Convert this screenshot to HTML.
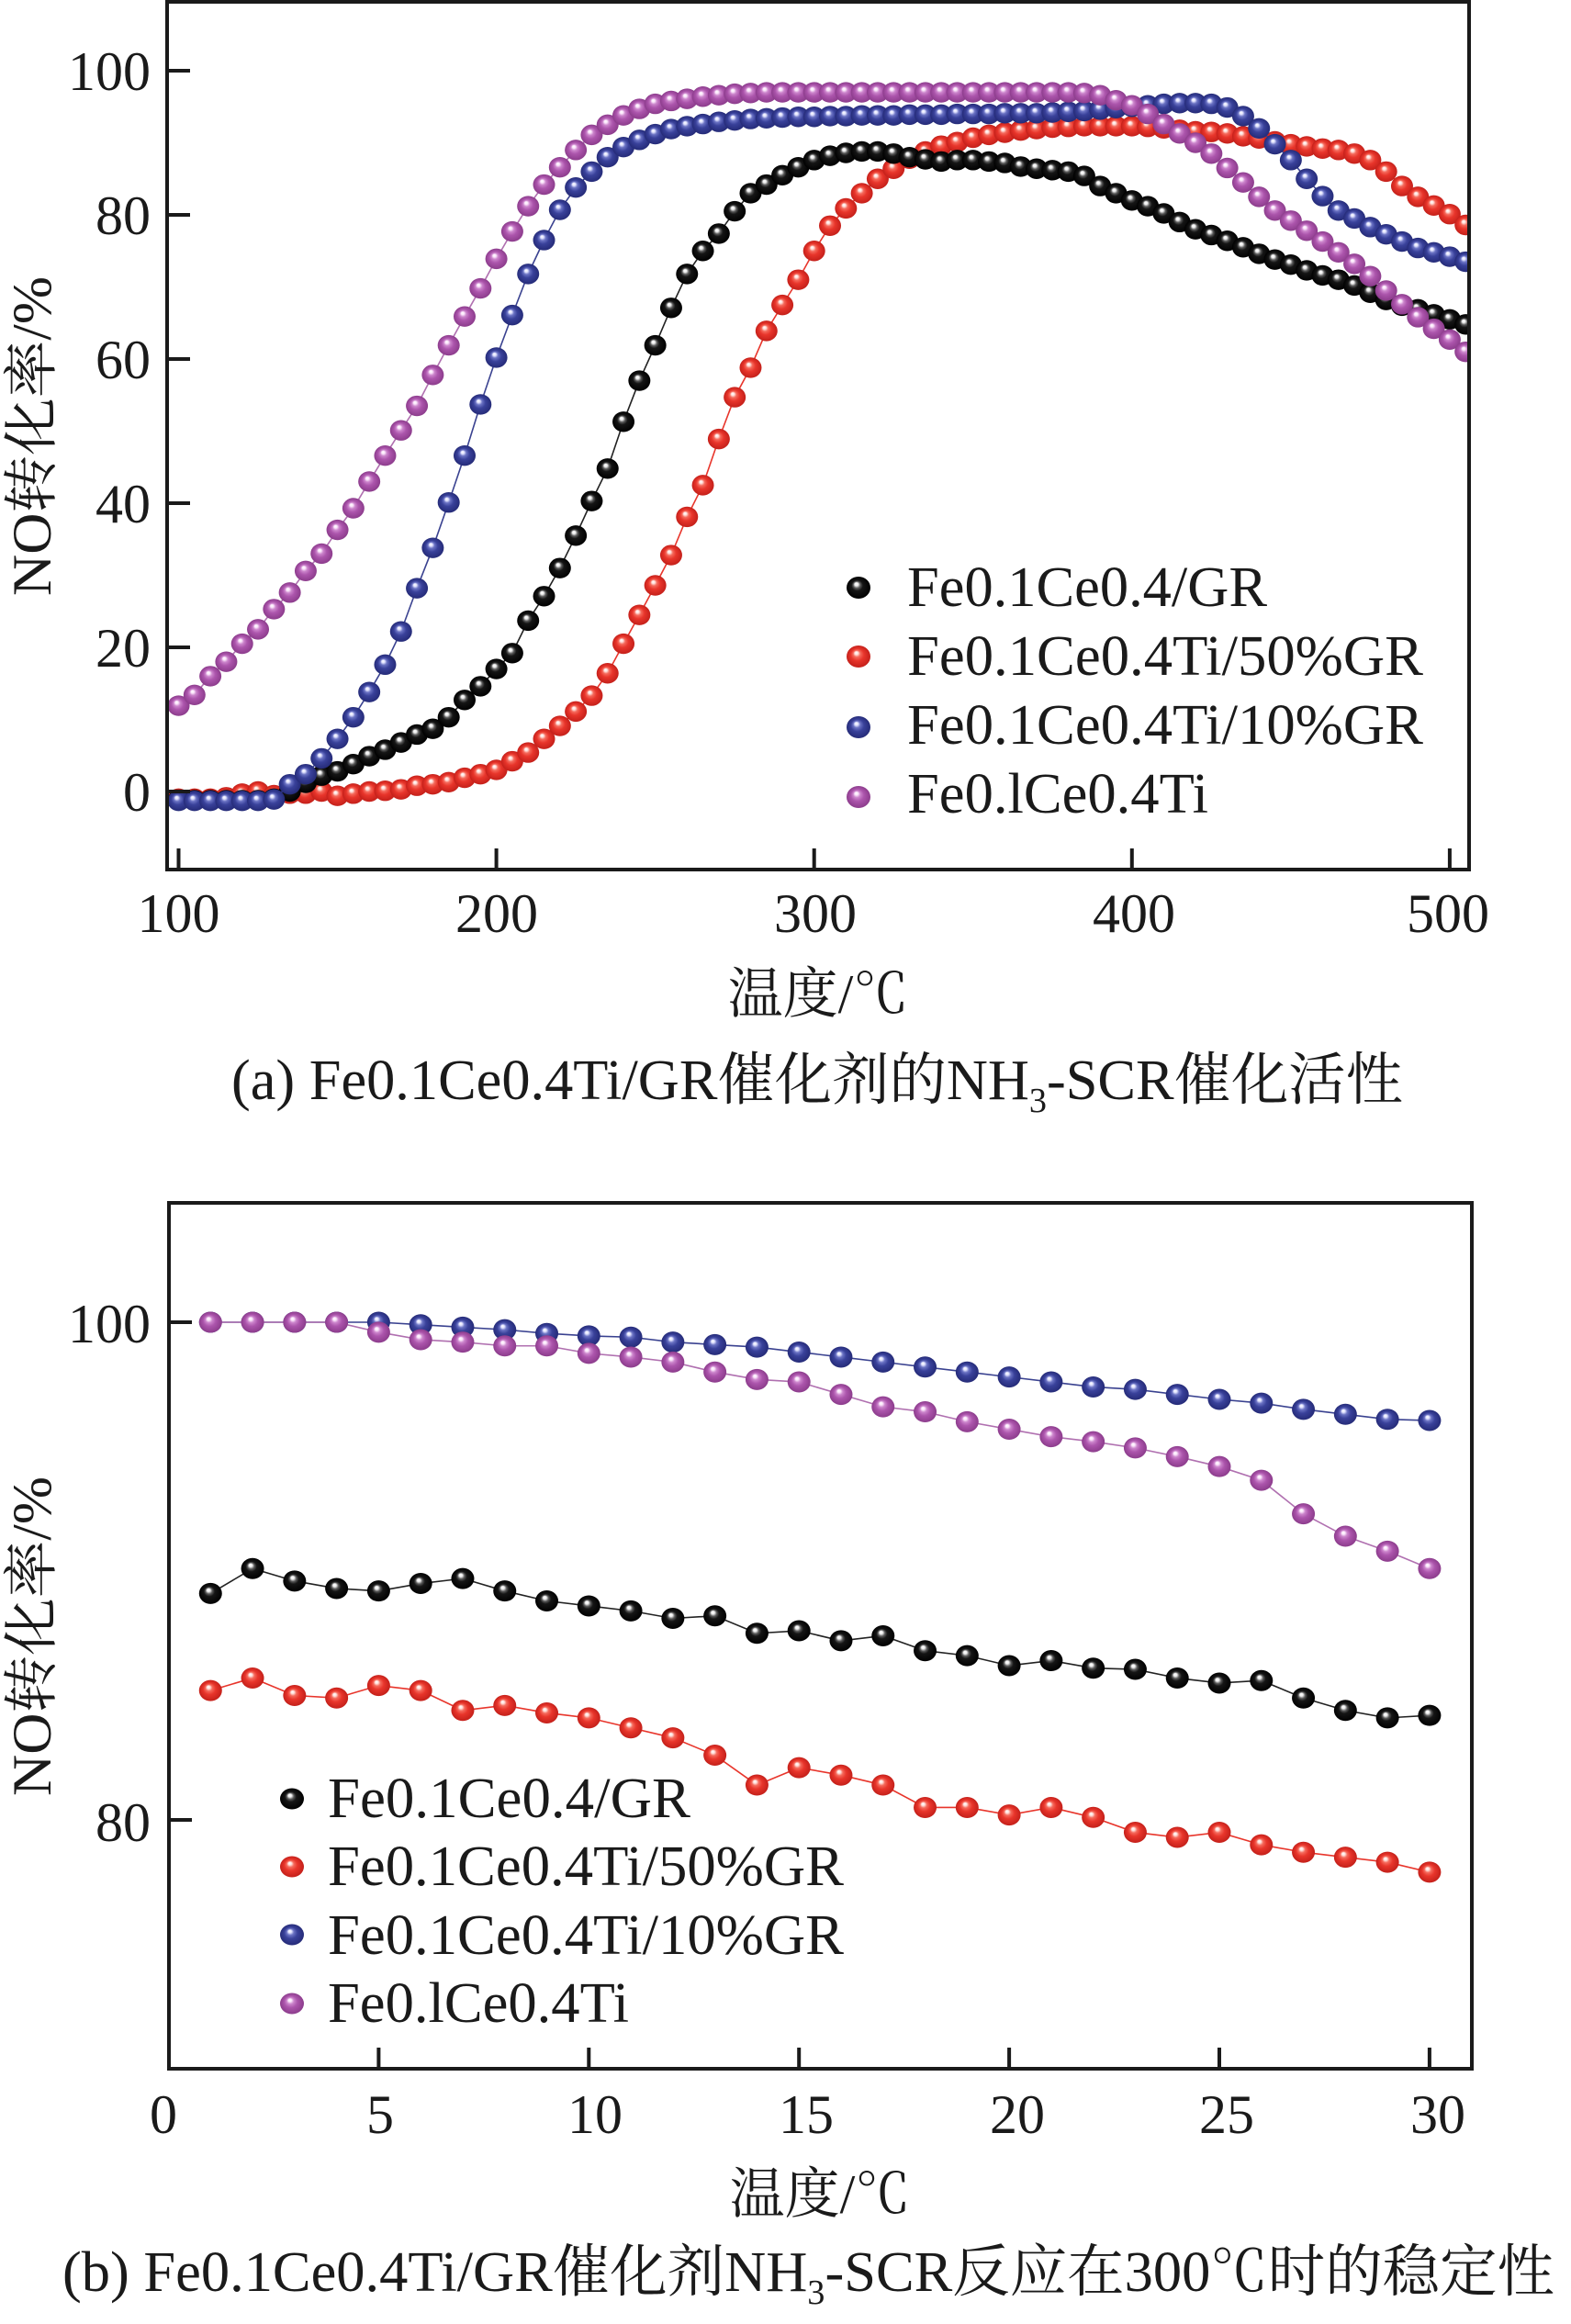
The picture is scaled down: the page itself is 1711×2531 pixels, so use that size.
<!DOCTYPE html>
<html>
<head>
<meta charset="utf-8">
<style>
html,body{margin:0;padding:0;background:#fff}
svg{display:block}
svg text{font-family:"Liberation Serif","Noto Serif CJK SC",serif;}
</style>
</head>
<body>
<svg width="1711" height="2531" viewBox="0 0 1711 2531" xmlns="http://www.w3.org/2000/svg" fill="#1a1a1a">
<defs>
  <radialGradient id="gK" cx="0.5" cy="0.5" r="0.5" fx="0.4" fy="0.68">
    <stop offset="0" stop-color="#ffffff"/><stop offset="0.14" stop-color="#f0f0f0"/><stop offset="0.3" stop-color="#5a5a5a"/><stop offset="0.48" stop-color="#151515"/><stop offset="1" stop-color="#000"/>
  </radialGradient>
  <radialGradient id="gR" cx="0.5" cy="0.5" r="0.5" fx="0.4" fy="0.68">
    <stop offset="0" stop-color="#ffffff"/><stop offset="0.14" stop-color="#ffe2dd"/><stop offset="0.3" stop-color="#f56a5c"/><stop offset="0.55" stop-color="#e8352b"/><stop offset="1" stop-color="#c4201a"/>
  </radialGradient>
  <radialGradient id="gB" cx="0.5" cy="0.5" r="0.5" fx="0.4" fy="0.68">
    <stop offset="0" stop-color="#ffffff"/><stop offset="0.14" stop-color="#e2e4ff"/><stop offset="0.3" stop-color="#6b73c4"/><stop offset="0.55" stop-color="#39419a"/><stop offset="1" stop-color="#252b78"/>
  </radialGradient>
  <radialGradient id="gP" cx="0.5" cy="0.5" r="0.5" fx="0.4" fy="0.68">
    <stop offset="0" stop-color="#ffffff"/><stop offset="0.14" stop-color="#fbe6fb"/><stop offset="0.3" stop-color="#cc85cc"/><stop offset="0.55" stop-color="#ac55ac"/><stop offset="1" stop-color="#8c3c8c"/>
  </radialGradient>
  <radialGradient id="lK" cx="0.5" cy="0.5" r="0.5" fx="0.4" fy="0.32">
    <stop offset="0" stop-color="#ffffff"/><stop offset="0.14" stop-color="#f0f0f0"/><stop offset="0.3" stop-color="#5a5a5a"/><stop offset="0.48" stop-color="#151515"/><stop offset="1" stop-color="#000"/>
  </radialGradient>
  <radialGradient id="lR" cx="0.5" cy="0.5" r="0.5" fx="0.4" fy="0.32">
    <stop offset="0" stop-color="#ffffff"/><stop offset="0.14" stop-color="#ffe2dd"/><stop offset="0.3" stop-color="#f56a5c"/><stop offset="0.55" stop-color="#e8352b"/><stop offset="1" stop-color="#c4201a"/>
  </radialGradient>
  <radialGradient id="lB" cx="0.5" cy="0.5" r="0.5" fx="0.4" fy="0.32">
    <stop offset="0" stop-color="#ffffff"/><stop offset="0.14" stop-color="#e2e4ff"/><stop offset="0.3" stop-color="#6b73c4"/><stop offset="0.55" stop-color="#39419a"/><stop offset="1" stop-color="#252b78"/>
  </radialGradient>
  <radialGradient id="lP" cx="0.5" cy="0.5" r="0.5" fx="0.4" fy="0.32">
    <stop offset="0" stop-color="#ffffff"/><stop offset="0.14" stop-color="#fbe6fb"/><stop offset="0.3" stop-color="#cc85cc"/><stop offset="0.55" stop-color="#ac55ac"/><stop offset="1" stop-color="#8c3c8c"/>
  </radialGradient>

  <marker id="mKa" markerUnits="userSpaceOnUse" markerWidth="1" markerHeight="1" refX="0" refY="0" style="overflow:visible"><ellipse cx="0" cy="0" rx="3.467" ry="1.427" fill="url(#gK)"/></marker>
  <marker id="mRa" markerUnits="userSpaceOnUse" markerWidth="1" markerHeight="1" refX="0" refY="0" style="overflow:visible"><ellipse cx="0" cy="0" rx="3.467" ry="1.427" fill="url(#gR)"/></marker>
  <marker id="mBa" markerUnits="userSpaceOnUse" markerWidth="1" markerHeight="1" refX="0" refY="0" style="overflow:visible"><ellipse cx="0" cy="0" rx="3.467" ry="1.427" fill="url(#gB)"/></marker>
  <marker id="mPa" markerUnits="userSpaceOnUse" markerWidth="1" markerHeight="1" refX="0" refY="0" style="overflow:visible"><ellipse cx="0" cy="0" rx="3.467" ry="1.427" fill="url(#gP)"/></marker>
  <marker id="mKb" markerUnits="userSpaceOnUse" markerWidth="1" markerHeight="1" refX="0" refY="0" style="overflow:visible"><ellipse cx="0" cy="0" rx="0.273" ry="0.4244" fill="url(#gK)"/></marker>
  <marker id="mRb" markerUnits="userSpaceOnUse" markerWidth="1" markerHeight="1" refX="0" refY="0" style="overflow:visible"><ellipse cx="0" cy="0" rx="0.273" ry="0.4244" fill="url(#gR)"/></marker>
  <marker id="mBb" markerUnits="userSpaceOnUse" markerWidth="1" markerHeight="1" refX="0" refY="0" style="overflow:visible"><ellipse cx="0" cy="0" rx="0.273" ry="0.4244" fill="url(#gB)"/></marker>
  <marker id="mPb" markerUnits="userSpaceOnUse" markerWidth="1" markerHeight="1" refX="0" refY="0" style="overflow:visible"><ellipse cx="0" cy="0" rx="0.273" ry="0.4244" fill="url(#gP)"/></marker>

  <clipPath id="clipA"><rect x="184" y="4" width="1414" height="941"/></clipPath>
  <clipPath id="clipB"><rect x="186" y="1312" width="1415" height="939"/></clipPath>
</defs>

<rect x="0" y="0" width="1711" height="2531" fill="#fff"/>

<!-- ================= PANEL A ================= -->
<g clip-path="url(#clipA)">
 <g transform="translate(-151.6,862) scale(3.461,-7.85)">
  <polyline fill="none" stroke="#e8352b" stroke-width="1.6" vector-effect="non-scaling-stroke" points="100,-1 105,-1 110,-1 115,-0.8 120,-0.3 125,0 130,-0.5 135,-0.3 140,-0.3 145,0 150,-0.6 155,-0.3 160,0 165,0.1 170,0.3 175,0.8 180,1 185,1.3 190,1.9 195,2.4 200,3 205,4.2 210,5.4 215,7.3 220,9.1 225,11.1 230,13.3 235,16.4 240,20.5 245,24.5 250,28.6 255,32.8 260,38.1 265,42.5 270,48.9 275,54.7 280,58.8 285,63.9 290,67.5 295,71 300,75 305,78.5 310,80.9 315,83 320,85 325,86.4 330,87.8 335,88.8 340,89.6 345,90.1 350,90.7 355,91.1 360,91.4 365,91.7 370,91.9 375,92.1 380,92.2 385,92.3 390,92.3 395,92.3 400,92.3 405,92.2 410,92 415,91.8 420,91.6 425,91.5 430,91.3 435,90.9 440,90.6 445,90.2 450,89.8 455,89.5 460,89.2 465,89 470,88.5 475,87.6 480,86 485,84 490,82.5 495,81.3 500,80.1 505,78.6"/>
  <polyline fill="none" stroke="none" marker-start="url(#mRa)" marker-mid="url(#mRa)" marker-end="url(#mRa)" points="100,-1 105,-1 110,-1 115,-0.8 120,-0.3 125,0 130,-0.5 135,-0.3 140,-0.3 145,0 150,-0.6 155,-0.3 160,0 165,0.1 170,0.3 175,0.8 180,1 185,1.3 190,1.9 195,2.4 200,3 205,4.2 210,5.4 215,7.3 220,9.1 225,11.1 230,13.3 235,16.4 240,20.5 245,24.5 250,28.6 255,32.8 260,38.1 265,42.5 270,48.9 275,54.7 280,58.8 285,63.9 290,67.5 295,71 300,75 305,78.5 310,80.9 315,83 320,85 325,86.4 330,87.8 335,88.8 340,89.6 345,90.1 350,90.7 355,91.1 360,91.4 365,91.7 370,91.9 375,92.1 380,92.2 385,92.3 390,92.3 395,92.3 400,92.3 405,92.2 410,92 415,91.8 420,91.6 425,91.5 430,91.3 435,90.9 440,90.6 445,90.2 450,89.8 455,89.5 460,89.2 465,89 470,88.5 475,87.6 480,86 485,84 490,82.5 495,81.3 500,80.1 505,78.6"/>
  <polyline fill="none" stroke="#222" stroke-width="1.6" vector-effect="non-scaling-stroke" points="100,-1.2 105,-1.2 110,-1.2 115,-1.2 120,-1.2 125,-1.2 130,-1 135,0 140,1.2 145,2.2 150,2.8 155,3.8 160,4.9 165,5.8 170,6.8 175,7.9 180,8.7 185,10.3 190,12.7 195,14.6 200,17 205,19.2 210,23.7 215,27.1 220,31 225,35.5 230,40.3 235,44.8 240,51.3 245,57 250,61.9 255,67.1 260,71.8 265,75 270,77.4 275,80.5 280,83 285,84.2 290,85.5 295,86.6 300,87.6 305,88.2 310,88.6 315,88.8 320,88.8 325,88.5 330,88 335,87.7 340,87.4 345,87.6 350,87.6 355,87.4 360,87.2 365,86.7 370,86.4 375,86.2 380,86 385,85.4 390,84 395,83 400,82 405,81.2 410,80.2 415,79 420,78 425,77.2 430,76.4 435,75.5 440,74.6 445,73.8 450,73.1 455,72.3 460,71.6 465,71 470,70.2 475,69.2 480,68.2 485,67.4 490,66.9 495,66.2 500,65.5 505,64.8"/>
  <polyline fill="none" stroke="none" marker-start="url(#mKa)" marker-mid="url(#mKa)" marker-end="url(#mKa)" points="100,-1.2 105,-1.2 110,-1.2 115,-1.2 120,-1.2 125,-1.2 130,-1 135,0 140,1.2 145,2.2 150,2.8 155,3.8 160,4.9 165,5.8 170,6.8 175,7.9 180,8.7 185,10.3 190,12.7 195,14.6 200,17 205,19.2 210,23.7 215,27.1 220,31 225,35.5 230,40.3 235,44.8 240,51.3 245,57 250,61.9 255,67.1 260,71.8 265,75 270,77.4 275,80.5 280,83 285,84.2 290,85.5 295,86.6 300,87.6 305,88.2 310,88.6 315,88.8 320,88.8 325,88.5 330,88 335,87.7 340,87.4 345,87.6 350,87.6 355,87.4 360,87.2 365,86.7 370,86.4 375,86.2 380,86 385,85.4 390,84 395,83 400,82 405,81.2 410,80.2 415,79 420,78 425,77.2 430,76.4 435,75.5 440,74.6 445,73.8 450,73.1 455,72.3 460,71.6 465,71 470,70.2 475,69.2 480,68.2 485,67.4 490,66.9 495,66.2 500,65.5 505,64.8"/>
  <polyline fill="none" stroke="#3a4290" stroke-width="1.6" vector-effect="non-scaling-stroke" points="100,-1.3 105,-1.3 110,-1.3 115,-1.3 120,-1.3 125,-1.3 130,-1.1 135,1 140,2.4 145,4.6 150,7.3 155,10.3 160,13.8 165,17.6 170,22.2 175,28.2 180,33.8 185,40.1 190,46.6 195,53.7 200,60.2 205,66.1 210,71.8 215,76.5 220,80.7 225,83.8 230,86 235,88 240,89.4 245,90.4 250,91.2 255,91.9 260,92.3 265,92.6 270,92.9 275,93.1 280,93.3 285,93.4 290,93.5 295,93.6 300,93.6 305,93.7 310,93.7 315,93.8 320,93.8 325,93.8 330,93.9 335,93.9 340,93.9 345,94 350,94 355,94 360,94.1 365,94.1 370,94.1 375,94.2 380,94.3 385,94.4 390,94.6 395,94.8 400,95 405,95.2 410,95.4 415,95.5 420,95.5 425,95.4 430,94.9 435,93.7 440,92 445,89.8 450,87.6 455,85 460,82.6 465,80.6 470,79.5 475,78.3 480,77.3 485,76.3 490,75.4 495,74.8 500,74.2 505,73.5"/>
  <polyline fill="none" stroke="none" marker-start="url(#mBa)" marker-mid="url(#mBa)" marker-end="url(#mBa)" points="100,-1.3 105,-1.3 110,-1.3 115,-1.3 120,-1.3 125,-1.3 130,-1.1 135,1 140,2.4 145,4.6 150,7.3 155,10.3 160,13.8 165,17.6 170,22.2 175,28.2 180,33.8 185,40.1 190,46.6 195,53.7 200,60.2 205,66.1 210,71.8 215,76.5 220,80.7 225,83.8 230,86 235,88 240,89.4 245,90.4 250,91.2 255,91.9 260,92.3 265,92.6 270,92.9 275,93.1 280,93.3 285,93.4 290,93.5 295,93.6 300,93.6 305,93.7 310,93.7 315,93.8 320,93.8 325,93.8 330,93.9 335,93.9 340,93.9 345,94 350,94 355,94 360,94.1 365,94.1 370,94.1 375,94.2 380,94.3 385,94.4 390,94.6 395,94.8 400,95 405,95.2 410,95.4 415,95.5 420,95.5 425,95.4 430,94.9 435,93.7 440,92 445,89.8 450,87.6 455,85 460,82.6 465,80.6 470,79.5 475,78.3 480,77.3 485,76.3 490,75.4 495,74.8 500,74.2 505,73.5"/>
  <polyline fill="none" stroke="#b070b0" stroke-width="1.6" vector-effect="non-scaling-stroke" points="100,11.9 105,13.4 110,16 115,18 120,20.5 125,22.5 130,25.3 135,27.6 140,30.6 145,33 150,36.3 155,39.3 160,43 165,46.6 170,50.1 175,53.5 180,57.8 185,61.9 190,65.9 195,69.8 200,73.9 205,77.7 210,81.2 215,84.2 220,86.6 225,89 230,91.1 235,92.5 240,93.8 245,94.7 250,95.4 255,95.8 260,96.1 265,96.4 270,96.6 275,96.8 280,96.9 285,97 290,97 295,97 300,97 305,97 310,97 315,97 320,97 325,97 330,97 335,97 340,97 345,97 350,97 355,97 360,97 365,97 370,97 375,97 380,97 385,96.9 390,96.6 395,95.9 400,95.2 405,94 410,92.6 415,91.3 420,90 425,88.5 430,86.5 435,84.5 440,82.5 445,80.6 450,79.2 455,77.8 460,76.3 465,74.8 470,73.2 475,71.5 480,69.5 485,67.6 490,65.8 495,64.2 500,62.7 505,61"/>
  <polyline fill="none" stroke="none" marker-start="url(#mPa)" marker-mid="url(#mPa)" marker-end="url(#mPa)" points="100,11.9 105,13.4 110,16 115,18 120,20.5 125,22.5 130,25.3 135,27.6 140,30.6 145,33 150,36.3 155,39.3 160,43 165,46.6 170,50.1 175,53.5 180,57.8 185,61.9 190,65.9 195,69.8 200,73.9 205,77.7 210,81.2 215,84.2 220,86.6 225,89 230,91.1 235,92.5 240,93.8 245,94.7 250,95.4 255,95.8 260,96.1 265,96.4 270,96.6 275,96.8 280,96.9 285,97 290,97 295,97 300,97 305,97 310,97 315,97 320,97 325,97 330,97 335,97 340,97 345,97 350,97 355,97 360,97 365,97 370,97 375,97 380,97 385,96.9 390,96.6 395,95.9 400,95.2 405,94 410,92.6 415,91.3 420,90 425,88.5 430,86.5 435,84.5 440,82.5 445,80.6 450,79.2 455,77.8 460,76.3 465,74.8 470,73.2 475,71.5 480,69.5 485,67.6 490,65.8 495,64.2 500,62.7 505,61"/>
 </g>
</g>

<rect x="182" y="2" width="1418" height="945" fill="none" stroke="#1a1a1a" stroke-width="4"/>
<path d="M184 77h23M184 234h23M184 391h23M184 548h23M184 705h23M184 862h23M194.5 947v-23M540.6 947v-23M886.7 947v-23M1232.8 947v-23M1578.9 947v-23" stroke="#1a1a1a" stroke-width="4" fill="none"/>

<g font-size="60" text-anchor="end">
  <text x="164" y="98">100</text>
  <text x="164" y="255">80</text>
  <text x="164" y="412">60</text>
  <text x="164" y="569">40</text>
  <text x="164" y="726">20</text>
  <text x="164" y="883">0</text>
</g>
<g font-size="60" text-anchor="middle">
  <text x="194.5" y="1015">100</text>
  <text x="541" y="1015">200</text>
  <text x="888" y="1015">300</text>
  <text x="1235" y="1015">400</text>
  <text x="1577" y="1015">500</text>
</g>

<text transform="translate(55,475) rotate(-90)" text-anchor="middle" font-size="60" textLength="348" lengthAdjust="spacingAndGlyphs">NO转化率/%</text>
<text x="891" y="1103" text-anchor="middle" font-size="60">温度/℃</text>

<ellipse cx="935" cy="640" rx="13" ry="12" fill="url(#lK)"/>
<ellipse cx="935" cy="715" rx="13" ry="12" fill="url(#lR)"/>
<ellipse cx="935" cy="792" rx="13" ry="12" fill="url(#lB)"/>
<ellipse cx="935" cy="868" rx="13" ry="12" fill="url(#lP)"/>
<g font-size="62">
  <text x="988" y="660" textLength="392" lengthAdjust="spacingAndGlyphs">Fe0.1Ce0.4/GR</text>
  <text x="988" y="735" textLength="562" lengthAdjust="spacingAndGlyphs">Fe0.1Ce0.4Ti/50%GR</text>
  <text x="988" y="810" textLength="562" lengthAdjust="spacingAndGlyphs">Fe0.1Ce0.4Ti/10%GR</text>
  <text x="988" y="885" textLength="328" lengthAdjust="spacingAndGlyphs">Fe0.lCe0.4Ti</text>
</g>

<text x="252" y="1197" font-size="62" textLength="1276" lengthAdjust="spacingAndGlyphs">(a) Fe0.1Ce0.4Ti/GR催化剂的NH<tspan font-size="38" dy="14">3</tspan><tspan dy="-14">-SCR催化活性</tspan></text>

<!-- ================= PANEL B ================= -->
<g clip-path="url(#clipB)">
 <g transform="translate(183.5,4150) scale(45.78,-27.1)">
  <polyline fill="none" stroke="#222" stroke-width="1.6" vector-effect="non-scaling-stroke" points="1,89.1 2,90.1 3,89.6 4,89.3 5,89.2 6,89.5 7,89.7 8,89.2 9,88.8 10,88.6 11,88.4 12,88.1 13,88.2 14,87.5 15,87.6 16,87.2 17,87.4 18,86.8 19,86.6 20,86.2 21,86.4 22,86.1 23,86.05 24,85.7 25,85.5 26,85.6 27,84.9 28,84.4 29,84.1 30,84.2"/>
  <polyline fill="none" stroke="none" marker-start="url(#mKb)" marker-mid="url(#mKb)" marker-end="url(#mKb)" points="1,89.1 2,90.1 3,89.6 4,89.3 5,89.2 6,89.5 7,89.7 8,89.2 9,88.8 10,88.6 11,88.4 12,88.1 13,88.2 14,87.5 15,87.6 16,87.2 17,87.4 18,86.8 19,86.6 20,86.2 21,86.4 22,86.1 23,86.05 24,85.7 25,85.5 26,85.6 27,84.9 28,84.4 29,84.1 30,84.2"/>
  <polyline fill="none" stroke="#e8352b" stroke-width="1.6" vector-effect="non-scaling-stroke" points="1,85.2 2,85.7 3,85 4,84.9 5,85.4 6,85.2 7,84.4 8,84.6 9,84.3 10,84.1 11,83.7 12,83.3 13,82.6 14,81.4 15,82.1 16,81.8 17,81.4 18,80.5 19,80.5 20,80.2 21,80.5 22,80.1 23,79.5 24,79.3 25,79.5 26,79 27,78.7 28,78.5 29,78.3 30,77.9"/>
  <polyline fill="none" stroke="none" marker-start="url(#mRb)" marker-mid="url(#mRb)" marker-end="url(#mRb)" points="1,85.2 2,85.7 3,85 4,84.9 5,85.4 6,85.2 7,84.4 8,84.6 9,84.3 10,84.1 11,83.7 12,83.3 13,82.6 14,81.4 15,82.1 16,81.8 17,81.4 18,80.5 19,80.5 20,80.2 21,80.5 22,80.1 23,79.5 24,79.3 25,79.5 26,79 27,78.7 28,78.5 29,78.3 30,77.9"/>
  <polyline fill="none" stroke="#3a4290" stroke-width="1.6" vector-effect="non-scaling-stroke" points="1,100 2,100 3,100 4,100 5,100 6,99.9 7,99.8 8,99.7 9,99.55 10,99.45 11,99.4 12,99.2 13,99.1 14,99 15,98.8 16,98.6 17,98.4 18,98.2 19,98 20,97.8 21,97.6 22,97.4 23,97.3 24,97.1 25,96.9 26,96.75 27,96.5 28,96.3 29,96.1 30,96.05"/>
  <polyline fill="none" stroke="none" marker-start="url(#mBb)" marker-mid="url(#mBb)" marker-end="url(#mBb)" points="1,100 2,100 3,100 4,100 5,100 6,99.9 7,99.8 8,99.7 9,99.55 10,99.45 11,99.4 12,99.2 13,99.1 14,99 15,98.8 16,98.6 17,98.4 18,98.2 19,98 20,97.8 21,97.6 22,97.4 23,97.3 24,97.1 25,96.9 26,96.75 27,96.5 28,96.3 29,96.1 30,96.05"/>
  <polyline fill="none" stroke="#b070b0" stroke-width="1.6" vector-effect="non-scaling-stroke" points="1,100 2,100 3,100 4,100 5,99.6 6,99.3 7,99.2 8,99.05 9,99.05 10,98.75 11,98.6 12,98.4 13,98 14,97.7 15,97.6 16,97.1 17,96.6 18,96.4 19,96 20,95.7 21,95.4 22,95.2 23,94.95 24,94.6 25,94.2 26,93.65 27,92.3 28,91.4 29,90.8 30,90.1"/>
  <polyline fill="none" stroke="none" marker-start="url(#mPb)" marker-mid="url(#mPb)" marker-end="url(#mPb)" points="1,100 2,100 3,100 4,100 5,99.6 6,99.3 7,99.2 8,99.05 9,99.05 10,98.75 11,98.6 12,98.4 13,98 14,97.7 15,97.6 16,97.1 17,96.6 18,96.4 19,96 20,95.7 21,95.4 22,95.2 23,94.95 24,94.6 25,94.2 26,93.65 27,92.3 28,91.4 29,90.8 30,90.1"/>
 </g>
</g>

<rect x="184" y="1310" width="1419" height="943" fill="none" stroke="#1a1a1a" stroke-width="4"/>
<path d="M184 1440h25M184 1982h25M412.4 2253v-23M641.3 2253v-23M870.2 2253v-23M1099.1 2253v-23M1328 2253v-23M1556.9 2253v-23" stroke="#1a1a1a" stroke-width="4" fill="none"/>

<g font-size="60" text-anchor="end">
  <text x="164" y="1462">100</text>
  <text x="164" y="2005">80</text>
</g>
<g font-size="60" text-anchor="middle">
  <text x="178" y="2323">0</text>
  <text x="414" y="2323">5</text>
  <text x="648" y="2323">10</text>
  <text x="878" y="2323">15</text>
  <text x="1108" y="2323">20</text>
  <text x="1336" y="2323">25</text>
  <text x="1566" y="2323">30</text>
</g>

<text transform="translate(55,1782) rotate(-90)" text-anchor="middle" font-size="60" textLength="348" lengthAdjust="spacingAndGlyphs">NO转化率/%</text>
<text x="893" y="2410" text-anchor="middle" font-size="60">温度/℃</text>

<ellipse cx="318" cy="1959" rx="13" ry="11.5" fill="url(#lK)"/>
<ellipse cx="318" cy="2033" rx="13" ry="11.5" fill="url(#lR)"/>
<ellipse cx="318" cy="2107" rx="13" ry="11.5" fill="url(#lB)"/>
<ellipse cx="318" cy="2182" rx="13" ry="11.5" fill="url(#lP)"/>
<g font-size="62">
  <text x="357" y="1979" textLength="395" lengthAdjust="spacingAndGlyphs">Fe0.1Ce0.4/GR</text>
  <text x="357" y="2053" textLength="562" lengthAdjust="spacingAndGlyphs">Fe0.1Ce0.4Ti/50%GR</text>
  <text x="357" y="2128" textLength="562" lengthAdjust="spacingAndGlyphs">Fe0.1Ce0.4Ti/10%GR</text>
  <text x="357" y="2202" textLength="328" lengthAdjust="spacingAndGlyphs">Fe0.lCe0.4Ti</text>
</g>

<text x="68" y="2495" font-size="62" textLength="1625" lengthAdjust="spacingAndGlyphs">(b) Fe0.1Ce0.4Ti/GR催化剂NH<tspan font-size="38" dy="14">3</tspan><tspan dy="-14">-SCR反应在300℃时的稳定性</tspan></text>

</svg>
</body>
</html>
